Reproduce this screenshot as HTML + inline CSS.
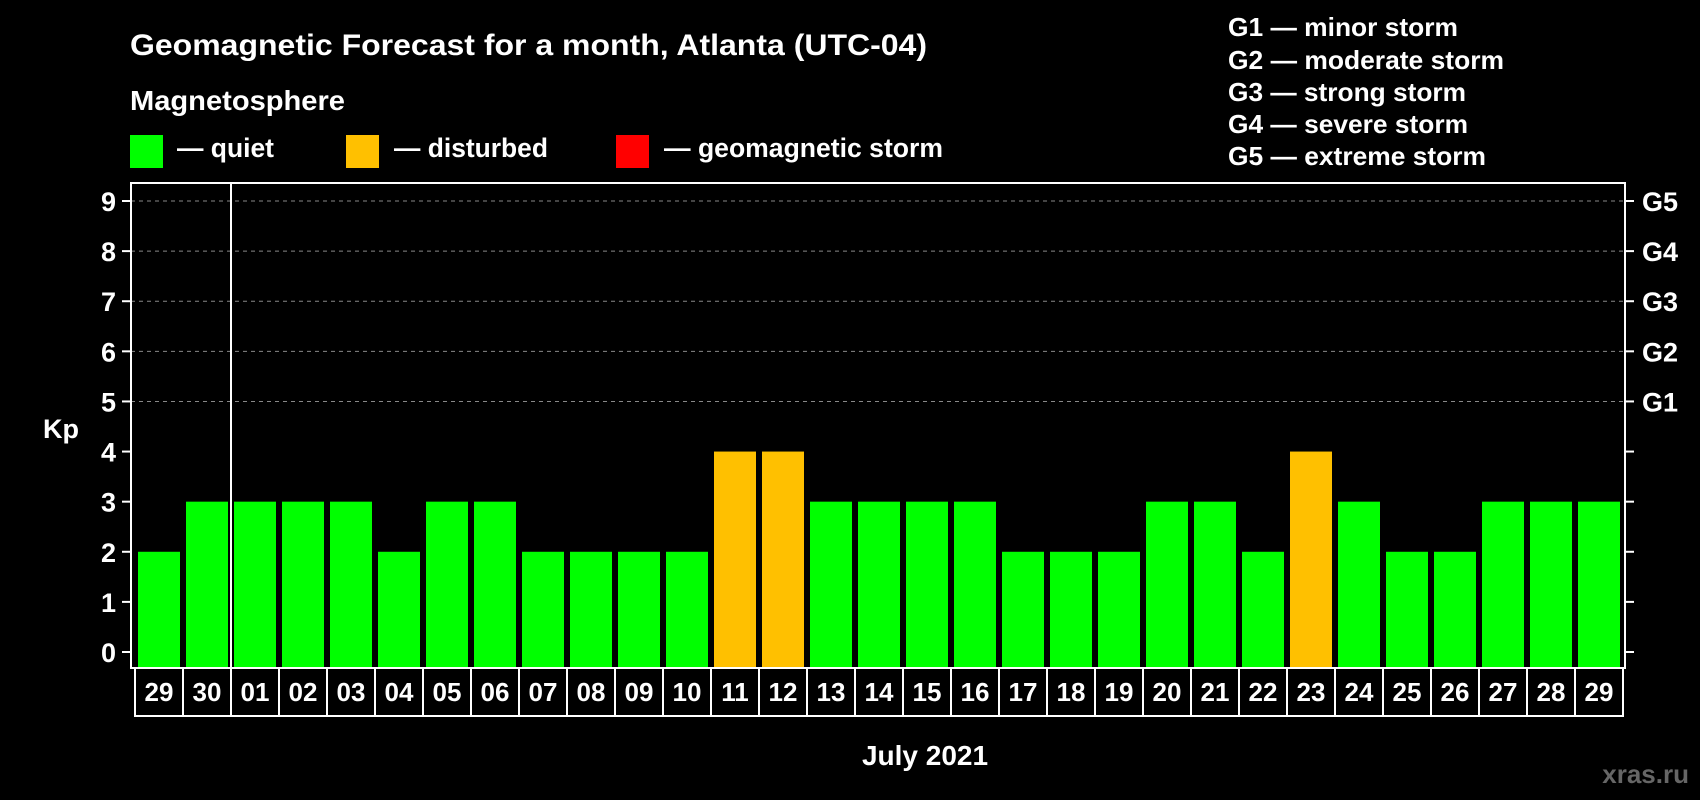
<!DOCTYPE html>
<html><head><meta charset="utf-8"><style>
html,body{margin:0;padding:0;background:#000;}
svg{display:block;font-family:"Liberation Sans",sans-serif;font-weight:bold;}
</style></head><body>
<svg id="chart" width="1700" height="800" viewBox="0 0 1700 800">
<rect width="1700" height="800" fill="#000"/>
<text x="130" y="55" font-size="30" fill="#fff" textLength="797" lengthAdjust="spacingAndGlyphs">Geomagnetic Forecast for a month, Atlanta (UTC-04)</text>
<text x="130" y="110" font-size="28" fill="#fff" textLength="215" lengthAdjust="spacingAndGlyphs">Magnetosphere</text>
<g><rect x="130" y="135" width="33" height="33" fill="#00ff00"/><text x="177" y="157" font-size="27" fill="#fff" textLength="97" lengthAdjust="spacingAndGlyphs">— quiet</text></g>
<g><rect x="346" y="135" width="33" height="33" fill="#ffc000"/><text x="394" y="157" font-size="27" fill="#fff" textLength="154" lengthAdjust="spacingAndGlyphs">— disturbed</text></g>
<g><rect x="616" y="135" width="33" height="33" fill="#ff0000"/><text x="664" y="157" font-size="27" fill="#fff" textLength="279" lengthAdjust="spacingAndGlyphs">— geomagnetic storm</text></g>
<g font-size="26" fill="#fff">
<text x="1228" y="36" textLength="230" lengthAdjust="spacingAndGlyphs">G1 — minor storm</text>
<text x="1228" y="69" textLength="276" lengthAdjust="spacingAndGlyphs">G2 — moderate storm</text>
<text x="1228" y="101" textLength="238" lengthAdjust="spacingAndGlyphs">G3 — strong storm</text>
<text x="1228" y="133" textLength="240" lengthAdjust="spacingAndGlyphs">G4 — severe storm</text>
<text x="1228" y="165" textLength="258" lengthAdjust="spacingAndGlyphs">G5 — extreme storm</text>
</g>
<text x="43" y="438" font-size="27" fill="#fff">Kp</text>
<text x="925" y="765" font-size="28" fill="#fff" text-anchor="middle">July 2021</text>
<text x="1689" y="783" font-size="26" fill="#666" text-anchor="end">xras.ru</text>
<g id="plot"></g>
</svg>
<script>
const days = ["29","30","01","02","03","04","05","06","07","08","09","10","11","12","13","14","15","16","17","18","19","20","21","22","23","24","25","26","27","28","29"];
const kpValues = [2,3,3,3,3,2,3,3,2,2,2,2,4,4,3,3,3,3,2,2,2,3,3,2,4,3,2,2,3,3,3];
const yTicks = [0,1,2,3,4,5,6,7,8,9];
const gLabels = ["G1","G2","G3","G4","G5"];
const gLevels = [5,6,7,8,9];

const NS = "http://www.w3.org/2000/svg";
const plot = document.getElementById("plot");
const L = 131, R = 1625, T = 183, B = 668, BOX_B = 716;
const y0 = 652, unit = (652 - 201) / 9;
const pitch = 48, barW = 42, firstBar = 138;
function yScale(v){ return y0 - v * unit; }
function xScale(i){ return firstBar + i * pitch; }
function mk(tag, attrs){ const e = document.createElementNS(NS, tag); for (const k in attrs) e.setAttribute(k, attrs[k]); plot.appendChild(e); return e; }

gLevels.forEach(v => {
  const g = mk("line", {x1:L, x2:R, y1:yScale(v), y2:yScale(v), stroke:"#888", "stroke-width":1, "stroke-dasharray":"4,4"});
  
  
});
kpValues.forEach((v, i) => {
  const col = v >= 5 ? "#ff0000" : (v >= 4 ? "#ffc000" : "#00ff00");
  const r = mk("rect", {x:xScale(i), y:yScale(v), width:barW, height:(B - 1) - yScale(v), fill:col});
  
  
});
const fr = mk("rect", {x:L, y:T, width:R-L, height:B-T, fill:"none", stroke:"#fff", "stroke-width":2});


yTicks.forEach(v => {
  const y = yScale(v);
  const t1 = mk("line", {x1:122, x2:L, y1:y, y2:y, stroke:"#fff", "stroke-width":2});
  
  
  const t2 = mk("line", {x1:R, x2:1634, y1:y, y2:y, stroke:"#fff", "stroke-width":2});
  
  
  const tx = mk("text", {x:116, y:y+10, "font-size":27, fill:"#fff", "text-anchor":"end"});
  tx.textContent = v;
  
  
});
gLevels.forEach((v, i) => {
  const tx = mk("text", {x:1642, y:yScale(v)+10, "font-size":27, fill:"#fff"});
  tx.textContent = gLabels[i];
  
  
});
days.forEach((d, i) => {
  const bx = mk("rect", {x:135 + i*pitch, y:B, width:pitch, height:BOX_B-B, fill:"none", stroke:"#fff", "stroke-width":2});
  
  
  const tx = mk("text", {x:135 + i*pitch + pitch/2, y:701, "font-size":26, fill:"#fff", "text-anchor":"middle"});
  tx.textContent = d;
  
  
});
const sep = mk("line", {x1:231, x2:231, y1:T, y2:BOX_B, stroke:"#fff", "stroke-width":2});


</script>
</body></html>
